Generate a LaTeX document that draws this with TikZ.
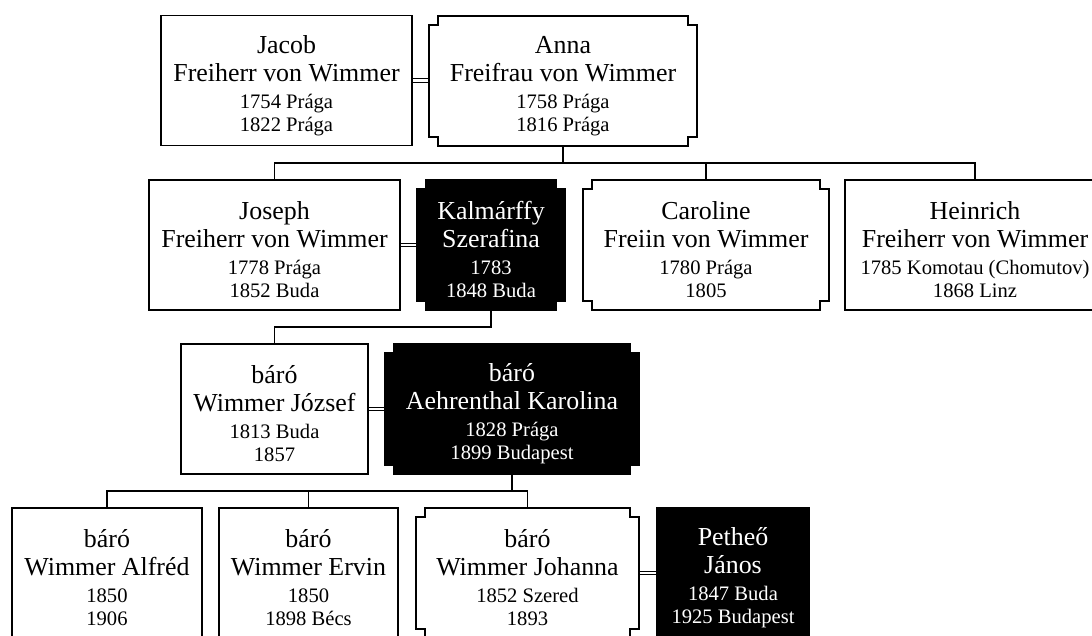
\documentclass[tikz,border=0pt]{standalone}
\usepackage{fontspec}
\setmainfont{Liberation Serif}
\usetikzlibrary{backgrounds}
\newcommand\namesize{\fontsize{25.9}{28}\selectfont}
\newcommand\datesize{\fontsize{20.6}{23}\selectfont}
\newcommand\person[4]{\rule{0pt}{27.7pt}#1\\#2\\[-1pt]{\datesize #3}\\[-5pt]{\datesize #4}}
\def\notchbox(#1)[#2]{\draw[#2] ([xshift=9pt]#1.north west) -- ([xshift=-9pt]#1.north east) -- ++(0,-9pt) -- ([yshift=-9pt]#1.north east) -- ([yshift=9pt]#1.south east) -- ++(-9pt,0) -- ([xshift=-9pt]#1.south east) -- ([xshift=9pt]#1.south west) -- ++(0,9pt) -- ([yshift=9pt]#1.south west) -- ([yshift=-9pt]#1.north west) -- ++(9pt,0) -- cycle;}
\tikzset{
	man/.style={draw, line width=1.6pt, minimum height=130pt, inner sep=0pt, outer sep=0pt, align=center, font=\namesize},
	woman/.style={man, draw=none},
	dark/.style={text=white},
	kin/.style={line width=1.2pt},
	wed/.style={double, double distance=2.2pt, line width=1.1pt, shorten <=0.8pt, shorten >=0.8pt}
}

\begin{document}
\begin{tikzpicture}[x=1pt, y=1pt]
			\useasboundingbox (0,0) rectangle (1092,-635);
			
			%%%%% GENERATION 1 %%%%%
			\node[man, minimum width=251pt] (jacob) at (286.5,-80.5) {\person{Jacob}{Freiherr von Wimmer}{1754 Prága}{1822 Prága}};
			\node[woman, minimum width=268pt] (anna) at (563,-81) {\person{Anna}{Freifrau von Wimmer}{1758 Prága}{1816 Prága}};
			
			%%%%% GENERATION 2 %%%%%
			\node[man, minimum width=251pt] (joseph) at (274.5,-245) {\person{Joseph}{Freiherr von Wimmer}{1778 Prága}{1852 Buda}};
			\node[woman, dark, minimum width=148pt] (kalmarffy) at (491,-245) {\person{Kalmárffy}{Szerafina}{1783}{1848 Buda}};
			\node[woman, minimum width=246pt] (caroline) at (706,-245) {\person{Caroline}{Freiin von Wimmer}{1780 Prága}{1805}};
			\node[man, minimum width=260pt] (heinrich) at (975,-245) {\person{Heinrich}{Freiherr von Wimmer}{1785 Komotau (Chomutov)}{1868 Linz}};
			
			%%%%% GENERATION 3 %%%%%
			\node[man, minimum width=187pt] (jozsef) at (274.5,-409) {\person{báró}{Wimmer József}{1813 Buda}{1857}};
			\node[woman, dark, minimum width=254pt] (aehrenthal) at (512,-409) {\person{báró}{Aehrenthal Karolina}{1828 Prága}{1899 Budapest}};
			
			%%%%% GENERATION 4 %%%%%
			\node[man, minimum width=190pt] (alfred) at (107,-573) {\person{báró}{Wimmer Alfréd}{1850}{1906}};
			\node[man, minimum width=179pt] (ervin) at (308.5,-573) {\person{báró}{Wimmer Ervin}{1850}{1898 Bécs}};
			\node[woman, minimum width=223pt] (johanna) at (527.5,-573) {\person{báró}{Wimmer Johanna}{1852 Szered}{1893}};
			\node[man, dark, fill=black, minimum width=152pt] (petho) at (733,-573) {\person{Petheő}{János}{1847 Buda}{1925 Budapest}};
			
			%%%%% NOTCHED BOXES %%%%%
			\begin{scope}[on background layer]
				\notchbox(anna)[line width=1.6pt]
				\notchbox(kalmarffy)[line width=1.6pt, fill=black]
				\notchbox(caroline)[line width=1.6pt]
				\notchbox(aehrenthal)[line width=1.6pt, fill=black]
				\notchbox(johanna)[line width=1.6pt]
			\end{scope}
			
			%%%%% MARRIAGES %%%%%
			\draw[wed] (jacob.east) -- (jacob.east -| anna.west);
			\draw[wed] (joseph.east) -- (kalmarffy.west);
			\draw[wed] (jozsef.east) -- (aehrenthal.west);
			\draw[wed] (johanna.east) -- (petho.west);
			
			%%%%% CHILDREN %%%%%
			\draw[kin] (anna.south) -- ++(0,-17);
			\draw[kin] (joseph.north) -- ++(0,17) -| (heinrich.north);
			\draw[kin] (caroline.north) -- ++(0,17);
			
			\draw[kin] (kalmarffy.south) -- ++(0,-17) -| (jozsef.north);
			
			\draw[kin] (aehrenthal.south) -- ++(0,-17);
			\draw[kin] (alfred.north) -- ++(0,17) -| (johanna.north);
			\draw[kin] (ervin.north) -- ++(0,17);
\end{tikzpicture}
\end{document}
